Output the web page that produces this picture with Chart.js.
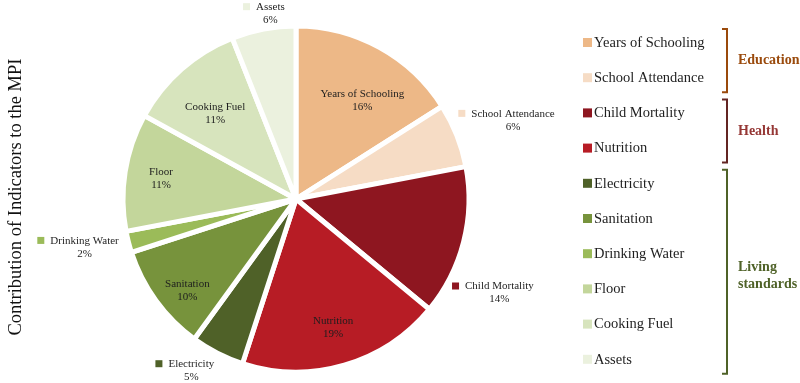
<!DOCTYPE html>
<html>
<head>
<meta charset="utf-8">
<script src="https://cdn.jsdelivr.net/npm/chart.js@4.4.0/dist/chart.umd.min.js"></script>
<style>
  html, body { margin: 0; padding: 0; background: #fff; }
  #wrap { width: 800px; height: 383px; position: relative; }
</style>
</head>
<body>
<div id="wrap"><canvas id="mpiChart"></canvas></div>
<script>
// Indicator shares (% contribution to the MPI)
const indicators = ['Years of Schooling', 'School Attendance', 'Child Mortality', 'Nutrition',
    'Electricity', 'Sanitation', 'Drinking Water', 'Floor', 'Cooking Fuel', 'Assets'];
const shares = [16, 6, 14, 19, 5, 10, 2, 11, 11, 6];
const sliceColors = ['#edb887', '#f6dcc5', '#8e1620', '#b71c25', '#4f6128', '#77933c',
    '#9bbb59', '#c3d69b', '#d7e4bd', '#ebf1de'];

// Indicator groups, in legend order
const groupNames = [['Education'], ['Health'], ['Living', 'standards']];
const groupSizes = [2, 2, 6];
const groupColors = ['#9a4a0c', '#953735', '#4f6228'];
const bracketColors = ['#9a4a0c', '#632523', '#4f6228'];

const yTitle = 'Contribution of Indicators to the MPI';
const serif = '"Liberation Serif", "DejaVu Serif", serif';

// label placement: radius factor, angle shift (deg), outside with marker
const labelRadius = [0.69, 1.30, 1.26, 0.77, 1.18, 0.82, 1.29, 0.79, 0.68, 1.09];
const labelShift = [5, 1, 11, 0, 6, -4, 2, 0, -2, 1];
const labelOutside = [false, true, true, false, true, false, true, false, false, true];

const sliceLabels = {
    id: 'sliceLabels',
    afterDatasetsDraw(chart) {
        const ctx = chart.ctx;
        const meta = chart.getDatasetMeta(0);
        ctx.save();
        ctx.font = '11px ' + serif;
        ctx.textBaseline = 'middle';
        meta.data.forEach((arc, i) => {
            const p = arc.getProps(['x', 'y', 'startAngle', 'endAngle', 'outerRadius'], true);
            const mid = (p.startAngle + p.endAngle) / 2 + labelShift[i] * Math.PI / 180;
            const r = p.outerRadius * labelRadius[i];
            const cx = p.x + Math.cos(mid) * r;
            const cy = p.y + Math.sin(mid) * r;
            const name = indicators[i];
            const pct = shares[i] + '%';
            ctx.fillStyle = '#1e1e1e';
            ctx.textAlign = 'center';
            if (labelOutside[i]) {
                const w = ctx.measureText(name).width;
                const total = w + 13;
                const left = cx - total / 2;
                const tx = left + 13 + w / 2;
                ctx.fillStyle = sliceColors[i];
                ctx.fillRect(left, cy - 10, 7, 7);
                ctx.fillStyle = '#1e1e1e';
                ctx.fillText(name, tx, cy - 6);
                ctx.fillText(pct, tx, cy + 7);
            } else {
                ctx.fillText(name, cx, cy - 6);
                ctx.fillText(pct, cx, cy + 7);
            }
        });
        ctx.restore();
    }
};

const sideDecor = {
    id: 'sideDecor',
    afterDraw(chart) {
        const ctx = chart.ctx;
        ctx.save();

        // rotated axis title
        ctx.translate(16, 197);
        ctx.rotate(-Math.PI / 2);
        ctx.font = '18.5px ' + serif;
        ctx.fillStyle = '#111';
        ctx.textAlign = 'center';
        ctx.textBaseline = 'middle';
        ctx.fillText(yTitle, 0, 0);
        ctx.setTransform(1, 0, 0, 1, 0, 0);

        // legend
        const lx = 583, ly0 = 43, step = 35.2;
        ctx.font = '14.5px ' + serif;
        ctx.textAlign = 'left';
        indicators.forEach((name, i) => {
            const y = ly0 + i * step;
            ctx.fillStyle = sliceColors[i];
            ctx.fillRect(lx, y - 5, 9, 9);
            ctx.fillStyle = '#1e1e1e';
            ctx.fillText(name, lx + 11, y);
        });

        // group brackets
        let k = 0;
        groupSizes.forEach((n, g) => {
            const top = ly0 + k * step - 14;
            const bot = ly0 + (k + n - 1) * step + 14;
            const bx = 727;
            ctx.strokeStyle = bracketColors[g];
            ctx.lineWidth = 2;
            ctx.beginPath();
            ctx.moveTo(bx - 5, top);
            ctx.lineTo(bx, top);
            ctx.lineTo(bx, bot);
            ctx.lineTo(bx - 5, bot);
            ctx.stroke();
            ctx.fillStyle = groupColors[g];
            ctx.font = 'bold 14px ' + serif;
            const lines = groupNames[g];
            const mid = (top + bot) / 2 + (lines.length > 1 ? 4 : 0);
            lines.forEach((t, j) => {
                ctx.fillText(t, 738, mid + (j - (lines.length - 1) / 2) * 17);
            });
            k += n;
        });
        ctx.restore();
    }
};

new Chart(document.getElementById('mpiChart'), {
    type: 'pie',
    data: {
        labels: indicators,
        datasets: [{
            data: shares,
            backgroundColor: sliceColors,
            borderColor: '#ffffff',
            borderWidth: 5,
            hoverOffset: 0
        }]
    },
    options: {
        responsive: true,
        maintainAspectRatio: false,
        animation: false,
        radius: 173,
        layout: {
            padding: { top: 15, bottom: 0, left: 0, right: 208 }
        },
        plugins: {
            legend: { display: false },
            tooltip: { enabled: false }
        }
    },
    plugins: [sliceLabels, sideDecor]
});
</script>
</body>
</html>
